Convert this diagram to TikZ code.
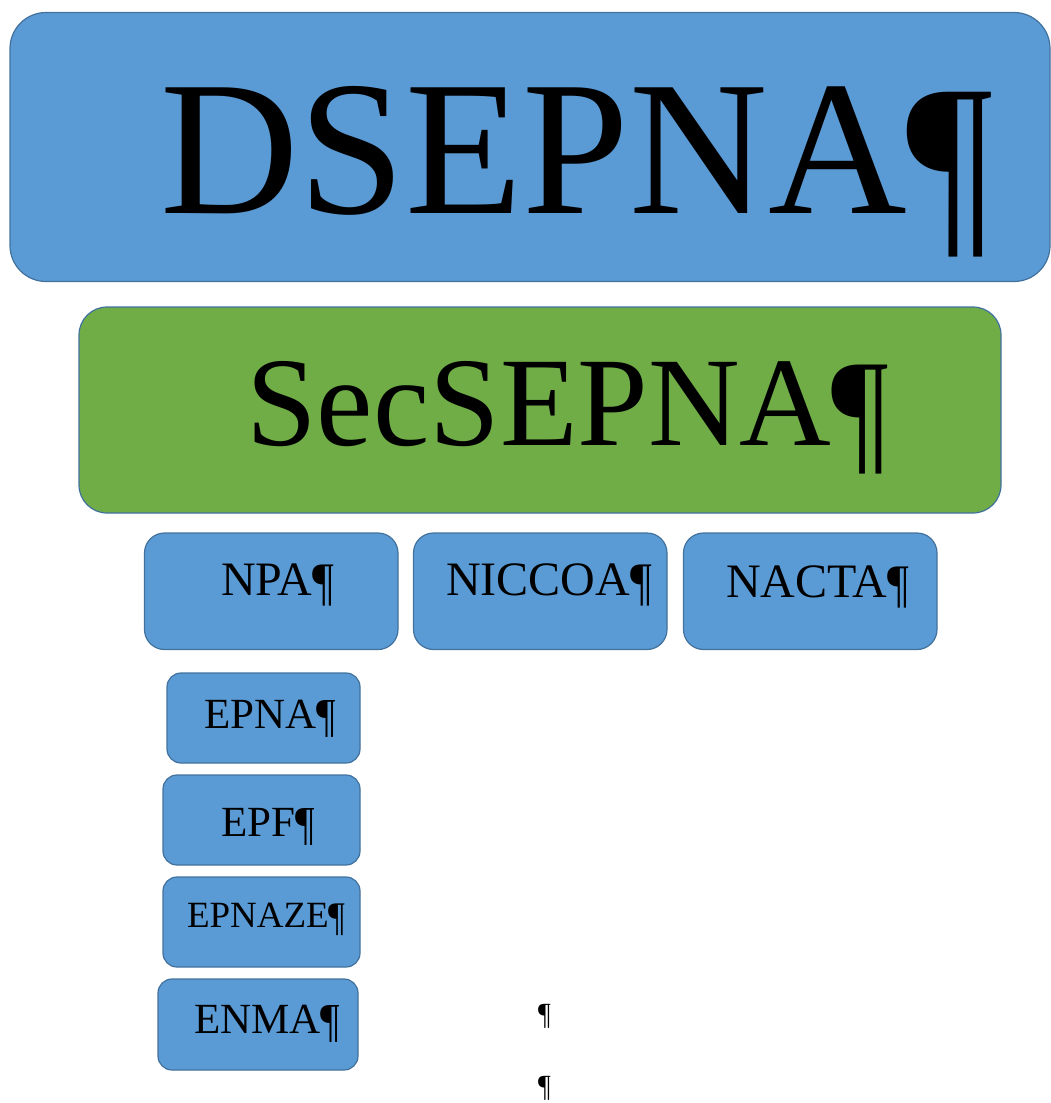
\documentclass[tikz,border=0pt]{standalone}
\usepackage{fontspec}
\setmainfont{Liberation Serif}
\definecolor{officeblue}{HTML}{5B9BD5}
\definecolor{officegreen}{HTML}{70AD47}
\definecolor{officeedge}{HTML}{41719C}
\newcommand\pilc{\raisebox{-0.09em}{\scalebox{1}[1.1]{¶}}}
\begin{document}
\begin{tikzpicture}[x=1pt,y=-1pt,
  boxbase/.style={draw=officeedge, line width=1.2pt, inner sep=0pt, outer sep=0pt},
  bluebox/.style={boxbase, fill=officeblue},
  greenbox/.style={boxbase, fill=officegreen},
  txt/.style={inner sep=0pt, outer sep=0pt, anchor=base west, text=black}]
\useasboundingbox (0,0) rectangle (1051,1103);
% boxes
\draw[bluebox, rounded corners=36pt] (10,12.5) rectangle (1050,281.5) node[pos=0.5, inner sep=0pt] (dsepna) {};
\draw[greenbox, rounded corners=28pt] (79,307) rectangle (1001,513) node[pos=0.5, inner sep=0pt] (secsepna) {};
\draw[bluebox, rounded corners=20pt] (144.5,533) rectangle (398,649.5) node[pos=0.5, inner sep=0pt] (npa) {};
\draw[bluebox, rounded corners=20pt] (413.5,533) rectangle (667,649.5) node[pos=0.5, inner sep=0pt] (niccoa) {};
\draw[bluebox, rounded corners=20pt] (683.5,533) rectangle (937,649.5) node[pos=0.5, inner sep=0pt] (nacta) {};
\draw[bluebox, rounded corners=14pt] (167,673) rectangle (360,763) node[pos=0.5, inner sep=0pt] (epna) {};
\draw[bluebox, rounded corners=14pt] (163,775) rectangle (360,865) node[pos=0.5, inner sep=0pt] (epf) {};
\draw[bluebox, rounded corners=14pt] (163,877) rectangle (360,967) node[pos=0.5, inner sep=0pt] (epnaze) {};
\draw[bluebox, rounded corners=14pt] (158,979) rectangle (358,1070) node[pos=0.5, inner sep=0pt] (enma) {};
% texts
\node[txt, font=\fontsize{192}{192}\selectfont] (tdsepna) at (160,213) {DSEPNA\pilc};
\node[txt, font=\fontsize{127}{127}\selectfont] (tsecsepna) at (246,445) {SecSEPNA\pilc};
\node[txt, font=\fontsize{48}{48}\selectfont] (tnpa) at (221,595) {NPA\pilc};
\node[txt, font=\fontsize{48}{48}\selectfont] (tniccoa) at (446,595) {NICCOA\pilc};
\node[txt, font=\fontsize{48}{48}\selectfont] (tnacta) at (726,597) {NACTA\pilc};
\node[txt, font=\fontsize{43}{43}\selectfont] (tepna) at (204,728) {EPNA\pilc};
\node[txt, font=\fontsize{43}{43}\selectfont] (tepf) at (221,836) {EPF\pilc};
\node[txt, font=\fontsize{37}{37}\selectfont] (tepnaze) at (187,927) {EPNAZE\pilc};
\node[txt, font=\fontsize{43}{43}\selectfont] (tenma) at (194,1033) {ENMA\pilc};
\node[txt, font=\fontsize{28}{28}\selectfont] (p1) at (538,1022) {\pilc};
\node[txt, font=\fontsize{28}{28}\selectfont] (p2) at (538,1094) {\pilc};
\end{tikzpicture}
\end{document}
